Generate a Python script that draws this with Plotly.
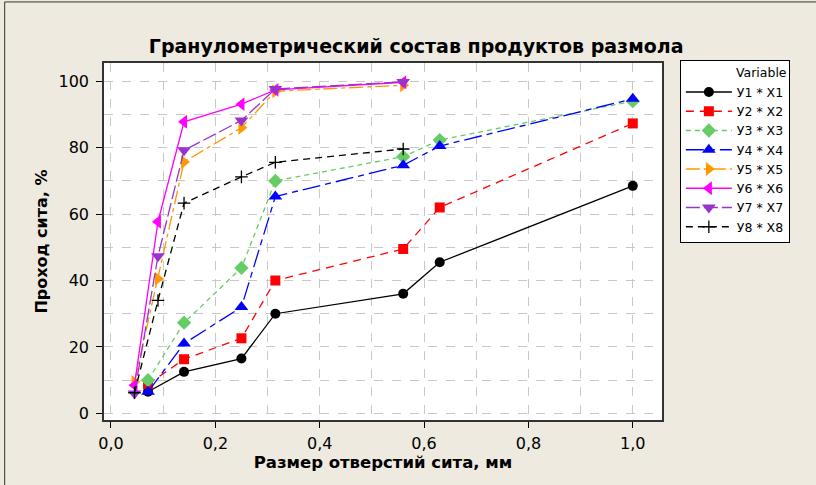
import plotly.graph_objects as go

# ---- data ----
names = ["У1 * Х1", "У2 * Х2", "У3 * Х3", "У4 * Х4", "У5 * Х5", "У6 * Х6", "У7 * Х7", "У8 * Х8"]

x1 = [0.071, 0.14, 0.25, 0.315, 0.56, 0.63, 1.0]
y1 = [6.5, 12.5, 16.5, 30.0, 36.0, 45.5, 68.5]
x2 = [0.071, 0.14, 0.25, 0.315, 0.56, 0.63, 1.0]
y2 = [8.8, 16.3, 22.6, 40.0, 49.5, 62.0, 87.3]
x3 = [0.071, 0.14, 0.25, 0.315, 0.56, 0.63, 1.0]
y3 = [10.0, 27.3, 43.8, 70.0, 77.3, 82.3, 94.0]
x4 = [0.071, 0.14, 0.25, 0.315, 0.56, 0.63, 1.0]
y4 = [6.5, 21.0, 32.0, 65.3, 74.7, 80.5, 94.7]
x5 = [0.045, 0.09, 0.14, 0.25, 0.315, 0.56]
y5 = [9.5, 40.5, 75.7, 86.0, 97.0, 98.8]
x6 = [0.045, 0.09, 0.14, 0.25, 0.315, 0.56]
y6 = [8.5, 57.7, 87.8, 93.1, 97.4, 99.7]
x7 = [0.045, 0.09, 0.14, 0.25, 0.315, 0.56]
y7 = [6.0, 47.3, 79.2, 88.2, 97.7, 99.8]
x8 = [0.045, 0.09, 0.14, 0.25, 0.315, 0.56]
y8 = [6.2, 34.0, 63.3, 71.2, 75.6, 79.6]

xs = [x1, x2, x3, x4, x5, x6, x7, x8]
ys = [y1, y2, y3, y4, y5, y6, y7, y8]

colors = ["#000000", "#FF0000", "#66CC66", "#0000FF", "#FF9900", "#FF00FF", "#9933CC", "#000000"]
dashes = ["solid", "8px,6px", "5px,4px", "18px,5px,6px,5px", "14px,4px,4px,4px", "solid", "14px,4px", "7px,5px"]
symbols = ["circle", "square", "diamond", "triangle-up", "triangle-right", "triangle-left", "triangle-down", "cross-thin"]
sizes = [10, 10, 11, 12, 12, 12, 12, 9]

BG = "#EEEADF"
FONT = "DejaVu Sans"

fig = go.Figure()
for i in range(8):
    marker = dict(symbol=symbols[i], size=sizes[i], color=colors[i])
    if symbols[i] == "cross-thin":
        marker["line"] = dict(color=colors[i], width=1.3)
    fig.add_trace(go.Scatter(
        x=xs[i], y=ys[i], mode="lines+markers", name=names[i],
        line=dict(color=colors[i], width=1.3, dash=dashes[i]),
        marker=marker,
    ))

grid = dict(showgrid=True, gridcolor="#C8C8C8", gridwidth=1, griddash="dash")

fig.update_layout(
    width=816, height=485,
    paper_bgcolor=BG, plot_bgcolor="white",
    margin=dict(l=104, r=154, t=63, b=65),
    separators=", ",
    font=dict(family=FONT, size=16, color="#000000"),
    title=dict(text="<b>Гранулометрический состав продуктов размола</b>",
               x=0.51, xanchor="center", y=0.905, yanchor="middle",
               font=dict(family=FONT, size=19, color="#000000")),
    legend=dict(
        x=1.032, xanchor="left", y=1.008, yanchor="top",
        bgcolor="white", bordercolor="#000000", borderwidth=1,
        font=dict(family=FONT, size=12.5, color="#000000"),
        title=dict(text="Variable", side="top right", font=dict(family=FONT, size=12.5)),
        itemwidth=46, tracegroupgap=0,
    ),
    xaxis=dict(
        range=[-0.0134, 1.056], tickmode="linear", tick0=0, dtick=0.2, tickformat=".1f",
        ticks="outside", ticklen=6, tickcolor="#000000", ticklabelstandoff=2,
        showline=True, linecolor="#333333", linewidth=1.5, mirror=True,
        zeroline=False,
        minor=dict(dtick=0.1, tick0=0, showgrid=True, gridcolor="#C8C8C8", griddash="dash", ticks=""),
        title=dict(text="<b>Размер отверстий сита, мм</b>", font=dict(family=FONT, size=16.5), standoff=4),
        **grid,
    ),
    yaxis=dict(
        range=[-2.0, 105.5], tickmode="linear", tick0=0, dtick=20,
        ticks="outside", ticklen=6, tickcolor="#000000", ticklabelstandoff=4,
        showline=True, linecolor="#333333", linewidth=1.5, mirror=True,
        zeroline=False,
        minor=dict(dtick=10, tick0=0, showgrid=True, gridcolor="#C8C8C8", griddash="dash", ticks=""),
        title=dict(text="<b>Проход сита, %</b>", font=dict(family=FONT, size=16), standoff=7),
        **grid,
    ),
    shapes=[dict(type="rect", xref="paper", yref="paper",
                 x0=-0.178, x1=1.3, y0=-0.3, y1=1.171,
                 line=dict(color="#333333", width=1), layer="below")],
)

fig.write_html(
    "out.html",
    config={"displayModeBar": False},
    post_script="document.body.style.margin='0';document.body.style.overflow='hidden';"
                "document.body.style.background='#EEEADF';",
)
